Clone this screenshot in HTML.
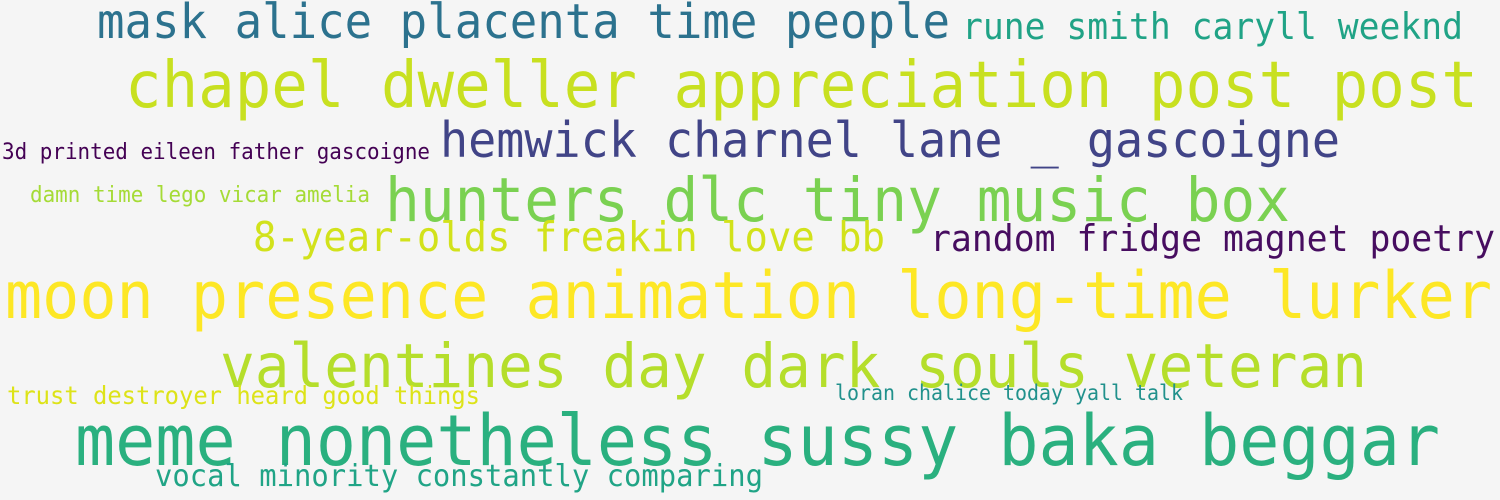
<!DOCTYPE html>
<html><head><meta charset="utf-8"><style>
html,body{margin:0;padding:0;background:#f5f5f5;}
svg{display:block;}
text{font-family:"DejaVu Sans Mono","Liberation Mono",monospace;}
</style></head><body>
<svg id="cloud" width="1500" height="500" xmlns="http://www.w3.org/2000/svg">
<rect width="1500" height="500" fill="#f5f5f5"/>
</svg>
<script>
const phrases = ["mask alice placenta time people","rune smith caryll weeknd","chapel dweller appreciation post post","3d printed eileen father gascoigne","hemwick charnel lane _ gascoigne","damn time lego vicar amelia","hunters dlc tiny music box","8-year-olds freakin love bb","random fridge magnet poetry","moon presence animation long-time lurker","valentines day dark souls veteran","trust destroyer heard good things","loran chalice today yall talk","meme nonetheless sussy baka beggar","vocal minority constantly comparing"];
const fontSizes = [48,36.5,64,22,49,22,61,41,36.5,65,61,25,21,70,30.5];
const colors = ["#2c728e","#20a386","#c8e020","#440154","#414487","#a5db36","#7ad151","#d2e21b","#470d60","#fde725","#b5de2b","#dde318","#21918c","#2ab07f","#20a486"];
const xs = [97,962,125,2,440,30,385,253,930,5,220,7,835,75,155];
const ys = [38,39,107,159,157,202,221,251,251,318,387,404,400,465,486];
const widths = [853,501,1353,428,900,340,905,632,565,1487,1147,473,348,1365,608];
const svg = document.getElementById('cloud');
phrases.forEach((p,i)=>{
  const t = document.createElementNS('http://www.w3.org/2000/svg','text');
  
  
  t.setAttribute('x', xs[i]);
  t.setAttribute('y', ys[i]);
  t.setAttribute('font-size', fontSizes[i]);
  t.setAttribute('fill', colors[i]);
  t.setAttribute('textLength', widths[i]);
  t.setAttribute('lengthAdjust', 'spacingAndGlyphs');
  t.textContent = p;
  svg.appendChild(t);
});
</script>
</body></html>
